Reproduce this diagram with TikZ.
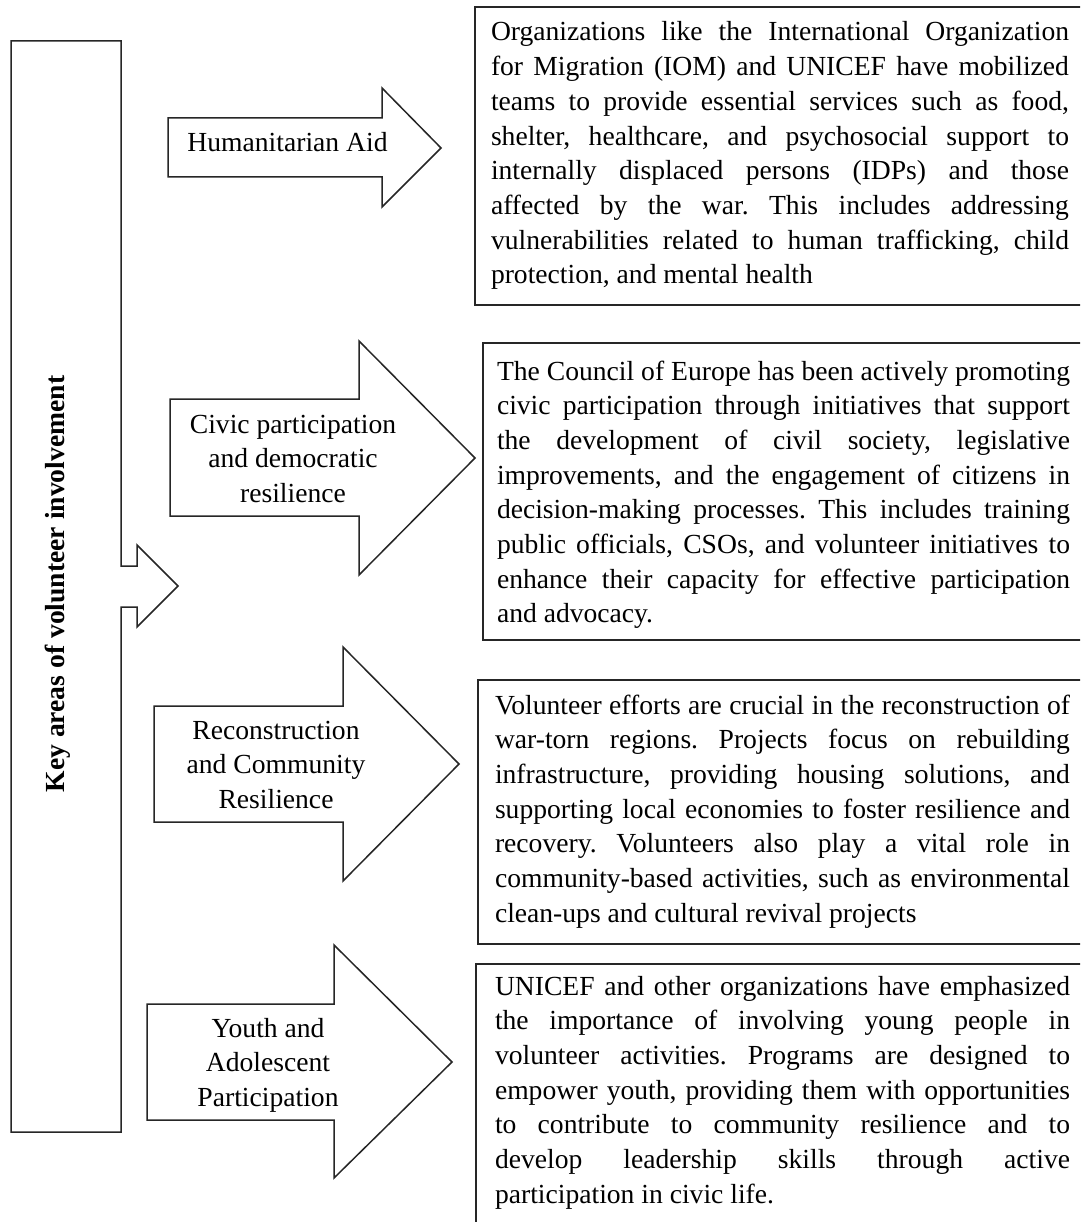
\documentclass[tikz,border=0pt]{standalone}
\usepackage{fontspec}
\setmainfont{Liberation Serif}
\frenchspacing
\newcommand{\jl}[1]{\makebox[\linewidth][s]{#1}\par}
\newcommand{\el}[1]{\makebox[\linewidth][l]{#1}\par}
\begin{document}
\begin{tikzpicture}[x=1pt,y=-1pt,line join=miter]
\tikzset{
  outl/.style={draw=black!85, line width=1.5pt},
  every node/.style={font=\fontsize{27.6}{34.7}\selectfont\frenchspacing},
  boxtxt/.style={inner sep=0pt, outer sep=0pt, anchor=base west},
  lbl/.style={inner sep=0pt, outer sep=0pt, anchor=base},
  panel/.style={outl, anchor=north west, inner sep=0pt, outer sep=0pt},
}
\useasboundingbox (0,0) rectangle (1080,1222);
\fill[white] (0,0) rectangle (1080,1222);
\clip (0,0) rectangle (1080,1222);

% left notched arrow panel
\draw[outl] (11,41) -- (121,41) -- (121,566) -- (137,566) -- (137,545) -- (178,586)
  -- (137,627) -- (137,607) -- (121,607) -- (121,1132) -- (11,1132) -- cycle;
\node[lbl, rotate=90, font=\fontsize{27.6}{34.7}\selectfont\bfseries] (title) at (64,584)
  {Key areas of volunteer involvement};

% block arrows
\draw[outl] (168,118) -- (382,118) -- (382,88) -- (441,148) -- (382,207) -- (382,177) -- (168,177) -- cycle;
\node[lbl] (a1) at (287.5,152) {Humanitarian Aid};

\draw[outl] (170,399) -- (359,399) -- (359,341) -- (475,458) -- (359,575) -- (359,516) -- (170,516) -- cycle;
\node[lbl] (a2) at (293,433) {\parbox[t]{260pt}{\centering Civic participation\\and democratic\\resilience}};

\draw[outl] (154,706) -- (343,706) -- (343,647) -- (459,764) -- (343,881) -- (343,822) -- (154,822) -- cycle;
\node[lbl] (a3) at (276,739) {\parbox[t]{260pt}{\centering Reconstruction\\and Community\\Resilience}};

\draw[outl] (147,1004) -- (334,1004) -- (334,945) -- (452,1062) -- (334,1178) -- (334,1120) -- (147,1120) -- cycle;
\node[lbl] (a4) at (268,1037) {\parbox[t]{260pt}{\centering Youth and\\Adolescent\\Participation}};

% text panels
\node[panel, minimum width=640pt, minimum height=298pt] (b1) at (475,7) {};
\node[boxtxt] (t1) at (491,41) {\parbox[t]{578pt}{%
\jl{Organizations like the International Organization}
\jl{for Migration (IOM) and UNICEF have mobilized}
\jl{teams to provide essential services such as food,}
\jl{shelter, healthcare, and psychosocial support to}
\jl{internally displaced persons (IDPs) and those}
\jl{affected by the war. This includes addressing}
\jl{vulnerabilities related to human trafficking, child}
\el{protection, and mental health}}};

\node[panel, minimum width=640pt, minimum height=297pt] (b2) at (483,343) {};
\node[boxtxt] (t2) at (497,380) {\parbox[t]{573pt}{%
\jl{The Council of Europe has been actively promoting}
\jl{civic participation through initiatives that support}
\jl{the development of civil society, legislative}
\jl{improvements, and the engagement of citizens in}
\jl{decision-making processes. This includes training}
\jl{public officials, CSOs, and volunteer initiatives to}
\jl{enhance their capacity for effective participation}
\el{and advocacy.}}};

\node[panel, minimum width=640pt, minimum height=264pt] (b3) at (478,680) {};
\node[boxtxt] (t3) at (495,714) {\parbox[t]{575pt}{%
\jl{Volunteer efforts are crucial in the reconstruction of}
\jl{war-torn regions. Projects focus on rebuilding}
\jl{infrastructure, providing housing solutions, and}
\jl{supporting local economies to foster resilience and}
\jl{recovery. Volunteers also play a vital role in}
\jl{community-based activities, such as environmental}
\el{clean-ups and cultural revival projects}}};

\node[panel, minimum width=640pt, minimum height=300pt] (b4) at (476,964) {};
\node[boxtxt] (t4) at (495,995) {\parbox[t]{575pt}{%
\jl{UNICEF and other organizations have emphasized}
\jl{the importance of involving young people in}
\jl{volunteer activities. Programs are designed to}
\jl{empower youth, providing them with opportunities}
\jl{to contribute to community resilience and to}
\jl{develop leadership skills through active}
\el{participation in civic life.}}};
\end{tikzpicture}
\end{document}
